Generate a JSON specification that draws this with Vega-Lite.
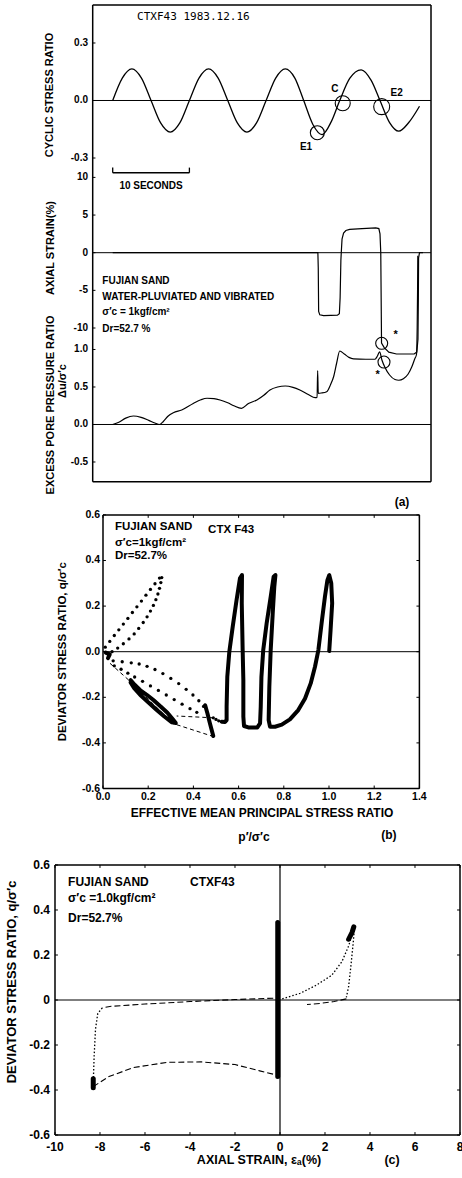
{
"$schema":"https://vega.github.io/schema/vega-lite/v6.json",
"width":462,"height":1178,"autosize":{"type":"none"},"padding":0,"background":"white",
"config":{
 "view":{"stroke":null},
 "axis":{"grid":false},
 "text":{"font":"Liberation Sans","fontWeight":"bold","color":"black","fontSize":10},
 "line":{"color":"black","strokeWidth":1.2},
 "rule":{"color":"black","strokeWidth":1},
 "point":{"color":"black","filled":true,"opacity":1}
},
"datasets":{
 "stress":[{"t":0,"s":0},{"t":1.25,"s":0.117},{"t":2.5,"s":0.165},{"t":3.75,"s":0.117},{"t":5,"s":0},{"t":6.25,"s":-0.117},{"t":7.5,"s":-0.165},{"t":8.75,"s":-0.117},{"t":10,"s":0},{"t":11.25,"s":0.117},{"t":12.5,"s":0.165},{"t":13.75,"s":0.117},{"t":15,"s":0},{"t":16.25,"s":-0.117},{"t":17.5,"s":-0.165},{"t":18.75,"s":-0.117},{"t":20,"s":0},{"t":21.25,"s":0.117},{"t":22.5,"s":0.165},{"t":23.75,"s":0.117},{"t":24.9,"s":0},{"t":26.1,"s":-0.125},{"t":27.3,"s":-0.178},{"t":28.5,"s":-0.11},{"t":29.6,"s":0},{"t":30.9,"s":0.115},{"t":32.4,"s":0.16},{"t":33.7,"s":0.105},{"t":34.85,"s":0},{"t":36.1,"s":-0.115},{"t":37.3,"s":-0.16},{"t":38.6,"s":-0.115},{"t":40.0,"s":-0.03}],
 "strain":[{"t":0,"e":0},{"t":26.75,"e":0},{"t":26.8,"e":-2},{"t":26.85,"e":-7.8},{"t":27.0,"e":-8.25},{"t":27.5,"e":-8.35},{"t":29.3,"e":-8.3},{"t":29.55,"e":-8.1},{"t":29.65,"e":-6},{"t":29.75,"e":-1},{"t":29.8,"e":0},{"t":29.9,"e":1.8},{"t":30.1,"e":2.6},{"t":30.4,"e":2.95},{"t":30.9,"e":3.1},{"t":32.5,"e":3.2},{"t":34.3,"e":3.3},{"t":34.7,"e":3.2},{"t":34.85,"e":2.5},{"t":34.95,"e":0},{"t":35.0,"e":-6},{"t":35.05,"e":-12.0},{"t":35.4,"e":-12.6},{"t":36.0,"e":-13.2},{"t":37.0,"e":-13.45},{"t":39.3,"e":-13.45},{"t":39.65,"e":-13.2},{"t":39.8,"e":-11.5},{"t":39.85,"e":-6},{"t":39.88,"e":-0.7},{"t":40.0,"e":0},{"t":40.45,"e":0}],
 "pore":[{"t":0,"u":0},{"t":0.8,"u":0.03},{"t":1.7,"u":0.085},{"t":2.7,"u":0.113},{"t":3.7,"u":0.095},{"t":4.7,"u":0.055},{"t":5.5,"u":0.02},{"t":6.1,"u":0},{"t":6.6,"u":0.04},{"t":7.2,"u":0.11},{"t":7.9,"u":0.157},{"t":9.0,"u":0.193},{"t":10.5,"u":0.28},{"t":11.5,"u":0.33},{"t":12.3,"u":0.35},{"t":13.2,"u":0.345},{"t":14.0,"u":0.327},{"t":15.0,"u":0.29},{"t":15.8,"u":0.25},{"t":16.8,"u":0.216},{"t":17.7,"u":0.28},{"t":18.8,"u":0.327},{"t":19.7,"u":0.39},{"t":20.5,"u":0.46},{"t":21.5,"u":0.5},{"t":22.5,"u":0.513},{"t":23.5,"u":0.495},{"t":24.4,"u":0.46},{"t":25.5,"u":0.4},{"t":26.4,"u":0.357},{"t":26.65,"u":0.36},{"t":26.72,"u":0.717},{"t":26.8,"u":0.416},{"t":27.2,"u":0.42},{"t":27.9,"u":0.437},{"t":28.4,"u":0.53},{"t":28.8,"u":0.637},{"t":29.2,"u":0.82},{"t":29.6,"u":0.98},{"t":30.2,"u":0.94},{"t":30.8,"u":0.895},{"t":31.4,"u":0.875},{"t":33.0,"u":0.87},{"t":34.2,"u":0.87},{"t":34.5,"u":0.91},{"t":34.8,"u":0.97},{"t":35.1,"u":0.86},{"t":35.5,"u":0.76},{"t":36.1,"u":0.66},{"t":36.8,"u":0.6},{"t":37.3,"u":0.59},{"t":37.9,"u":0.61},{"t":38.5,"u":0.67},{"t":39.0,"u":0.77},{"t":39.4,"u":0.88},{"t":39.6,"u":0.93},{"t":39.7,"u":1.3},{"t":39.75,"u":1.8},{"t":39.78,"u":2.25}],
 "circA":[{"t":26.68,"s":-0.168,"label":"E1"},{"t":29.99,"s":-0.0146,"label":"C"},{"t":35.07,"s":-0.032,"label":"E2"}],
 "textA":[{"t":28.98,"s":0.06,"label":"C"},{"t":37.03,"s":0.0407,"label":"E2"},{"t":25.2,"s":-0.241,"label":"E1"},{"t":5.0,"s":-0.4445,"label":"10 SECONDS"}],
 "legA":[{"t":-1.35,"e":-3.77,"label":"FUJIAN SAND"},{"t":-1.35,"e":-5.87,"label":"WATER-PLUVIATED AND VIBRATED"},{"t":-1.35,"e":-7.87,"label":"σ′c = 1kgf/cm²"},{"t":-1.35,"e":-10.17,"label":"Dr=52.7 %"}],
 "labS":[{"v":0.3,"label":"0.3"},{"v":0,"label":"0.0"},{"v":-0.3,"label":"-0.3"}],
 "labE":[{"v":10,"label":"10"},{"v":5,"label":"5"},{"v":0,"label":"0"},{"v":-5,"label":"-5"},{"v":-10,"label":"-10"}],
 "labP":[{"v":1,"label":"1.0"},{"v":0.5,"label":"0.5"},{"v":0,"label":"0.0"},{"v":-0.5,"label":"-0.5"}],
 "circP":[{"t":35.07,"u":1.083},{"t":35.37,"u":0.833}],
 "starP":[{"t":36.9,"u":1.193},{"t":34.55,"u":0.66}],
 "bMain":[{"p":1.001,"q":0.003},{"p":1.007,"q":0.095},{"p":1.014,"q":0.212},{"p":1.01,"q":0.3},{"p":1.001,"q":0.336},{"p":0.993,"q":0.314},{"p":0.982,"q":0.241},{"p":0.969,"q":0.139},{"p":0.953,"q":0.007},{"p":0.938,"q":-0.066},{"p":0.919,"q":-0.139},{"p":0.894,"q":-0.205},{"p":0.864,"q":-0.256},{"p":0.827,"q":-0.297},{"p":0.791,"q":-0.32},{"p":0.761,"q":-0.329},{"p":0.739,"q":-0.329},{"p":0.733,"q":-0.3},{"p":0.736,"q":-0.154},{"p":0.742,"q":0.007},{"p":0.751,"q":0.168},{"p":0.758,"q":0.285},{"p":0.763,"q":0.336},{"p":0.755,"q":0.329},{"p":0.742,"q":0.241},{"p":0.724,"q":0.124},{"p":0.709,"q":0.007},{"p":0.701,"q":-0.11},{"p":0.698,"q":-0.241},{"p":0.695,"q":-0.314},{"p":0.683,"q":-0.332},{"p":0.643,"q":-0.332},{"p":0.624,"q":-0.326},{"p":0.621,"q":-0.285},{"p":0.621,"q":-0.124},{"p":0.618,"q":0.007},{"p":0.614,"q":0.212},{"p":0.615,"q":0.336},{"p":0.606,"q":0.322},{"p":0.591,"q":0.227},{"p":0.574,"q":0.11},{"p":0.559,"q":0},{"p":0.55,"q":-0.11},{"p":0.547,"q":-0.241},{"p":0.547,"q":-0.3},{"p":0.54,"q":-0.308},{"p":0.525,"q":-0.307}],
 "bLobe":[{"seg":"lobe","p":0.122,"q":-0.125},{"seg":"lobe","p":0.14,"q":-0.145},{"seg":"lobe","p":0.164,"q":-0.168},{"seg":"lobe","p":0.195,"q":-0.19},{"seg":"lobe","p":0.223,"q":-0.212},{"seg":"lobe","p":0.255,"q":-0.24},{"seg":"lobe","p":0.285,"q":-0.268},{"seg":"lobe","p":0.31,"q":-0.298},{"seg":"lobe","p":0.322,"q":-0.313},{"seg":"lobe","p":0.305,"q":-0.31},{"seg":"lobe","p":0.27,"q":-0.283},{"seg":"lobe","p":0.235,"q":-0.253},{"seg":"lobe","p":0.2,"q":-0.222},{"seg":"lobe","p":0.165,"q":-0.19},{"seg":"lobe","p":0.138,"q":-0.16},{"seg":"lobe","p":0.122,"q":-0.135},{"seg":"tip","p":0.452,"q":-0.235},{"seg":"tip","p":0.462,"q":-0.27},{"seg":"tip","p":0.472,"q":-0.31},{"seg":"tip","p":0.48,"q":-0.34},{"seg":"tip","p":0.488,"q":-0.37},{"seg":"blob","p":0.012,"q":-0.004},{"seg":"blob","p":0.03,"q":-0.012},{"seg":"blob","p":0.022,"q":-0.028}],
 "bDots":[{"p":0.01,"q":0.02},{"p":0.03,"q":0.045},{"p":0.05,"q":0.071},{"p":0.07,"q":0.096},{"p":0.09,"q":0.121},{"p":0.11,"q":0.146},{"p":0.13,"q":0.172},{"p":0.15,"q":0.197},{"p":0.17,"q":0.222},{"p":0.19,"q":0.248},{"p":0.21,"q":0.273},{"p":0.23,"q":0.298},{"p":0.25,"q":0.323},
  {"p":0.04,"q":0.0},{"p":0.065,"q":0.016},{"p":0.09,"q":0.035},{"p":0.115,"q":0.056},{"p":0.138,"q":0.078},{"p":0.158,"q":0.102},{"p":0.178,"q":0.128},{"p":0.195,"q":0.153},{"p":0.21,"q":0.178},{"p":0.223,"q":0.203},{"p":0.234,"q":0.228},{"p":0.243,"q":0.253},{"p":0.25,"q":0.278},{"p":0.256,"q":0.303},{"p":0.26,"q":0.325},
  {"p":0.045,"q":-0.04},{"p":0.085,"q":-0.044},{"p":0.125,"q":-0.049},{"p":0.16,"q":-0.054},{"p":0.195,"q":-0.064},{"p":0.23,"q":-0.078},{"p":0.265,"q":-0.096},{"p":0.3,"q":-0.117},{"p":0.335,"q":-0.14},{"p":0.368,"q":-0.165},{"p":0.398,"q":-0.19},{"p":0.424,"q":-0.215},{"p":0.445,"q":-0.24},
  {"p":0.05,"q":-0.062},{"p":0.08,"q":-0.077},{"p":0.11,"q":-0.094},{"p":0.14,"q":-0.111},{"p":0.175,"q":-0.13},{"p":0.21,"q":-0.15},{"p":0.245,"q":-0.17},{"p":0.28,"q":-0.19},{"p":0.315,"q":-0.21},{"p":0.35,"q":-0.23},{"p":0.385,"q":-0.25},{"p":0.415,"q":-0.266},
  {"p":0.488,"q":-0.29},{"p":0.5,"q":-0.297},{"p":0.512,"q":-0.303}],
 "bDash":[{"seg":"d1","p":0.488,"q":-0.29},{"seg":"d1","p":0.326,"q":-0.282},{"seg":"d2","p":0.031,"q":-0.051},{"seg":"d2","p":0.12,"q":-0.13},{"seg":"d2","p":0.31,"q":-0.315},{"seg":"d2","p":0.488,"q":-0.372}],
 "bText":[{"p":0.053,"q":0.547,"label":"FUJIAN SAND"},{"p":0.465,"q":0.534,"label":"CTX F43"},{"p":0.053,"q":0.477,"label":"σ′c=1kgf/cm²"},{"p":0.053,"q":0.42,"label":"Dr=52.7%"}],
 "bText2":[{"p":0.668,"q":-0.811,"label":"p′/σ′c"},{"p":1.265,"q":-0.804,"label":"(b)"},{"p":0.7035,"q":-0.7075,"label":"EFFECTIVE MEAN PRINCIPAL STRESS RATIO"}],
 "labBY":[{"v":0.6,"label":"0.6"},{"v":0.4,"label":"0.4"},{"v":0.2,"label":"0.2"},{"v":0,"label":"0.0"},{"v":-0.2,"label":"-0.2"},{"v":-0.4,"label":"-0.4"},{"v":-0.6,"label":"-0.6"}],
 "labBX":[{"v":0,"label":"0.0"},{"v":0.2,"label":"0.2"},{"v":0.4,"label":"0.4"},{"v":0.6,"label":"0.6"},{"v":0.8,"label":"0.8"},{"v":1.0,"label":"1.0"},{"v":1.2,"label":"1.2"},{"v":1.4,"label":"1.4"}],
 "cDense":[{"seg":"bar","e":-0.1,"q":-0.34},{"seg":"bar","e":-0.1,"q":0.345},{"seg":"peak","e":3.05,"q":0.27},{"seg":"peak","e":3.2,"q":0.3},{"seg":"peak","e":3.28,"q":0.325},{"seg":"foot","e":-8.3,"q":-0.35},{"seg":"foot","e":-8.3,"q":-0.39}],
 "cDot":[{"seg":"up","e":0.1,"q":0.005},{"seg":"up","e":0.9,"q":0.03},{"seg":"up","e":1.6,"q":0.065},{"seg":"up","e":2.3,"q":0.11},{"seg":"up","e":2.75,"q":0.17},{"seg":"up","e":3.05,"q":0.24},{"seg":"up","e":3.2,"q":0.29},{"seg":"up","e":3.3,"q":0.32},{"seg":"down","e":3.3,"q":0.31},{"seg":"down","e":3.25,"q":0.25},{"seg":"down","e":3.15,"q":0.15},{"seg":"down","e":3.05,"q":0.06},{"seg":"down","e":2.95,"q":0.012},{"seg":"left","e":-7.9,"q":-0.035},{"seg":"left","e":-8.1,"q":-0.06},{"seg":"left","e":-8.2,"q":-0.13},{"seg":"left","e":-8.26,"q":-0.25},{"seg":"left","e":-8.3,"q":-0.37}],
 "cDash":[{"seg":"r","e":2.95,"q":0.005},{"seg":"r","e":2.4,"q":-0.007},{"seg":"r","e":1.8,"q":-0.015},{"seg":"r","e":1.2,"q":-0.02},{"seg":"ul","e":-0.3,"q":0.008},{"seg":"ul","e":-2,"q":0.002},{"seg":"ul","e":-4,"q":-0.007},{"seg":"ul","e":-6,"q":-0.018},{"seg":"ul","e":-7.5,"q":-0.028},{"seg":"ul","e":-7.9,"q":-0.035},{"seg":"low","e":-8.3,"q":-0.385},{"seg":"low","e":-7.6,"q":-0.34},{"seg":"low","e":-6.5,"q":-0.3},{"seg":"low","e":-5,"q":-0.277},{"seg":"low","e":-3.5,"q":-0.275},{"seg":"low","e":-2,"q":-0.287},{"seg":"low","e":-0.9,"q":-0.315},{"seg":"low","e":-0.2,"q":-0.332}],
 "cText":[{"e":-9.42,"q":0.526,"label":"FUJIAN SAND"},{"e":-4.0,"q":0.526,"label":"CTXF43"},{"e":-9.42,"q":0.453,"label":"σ′c =1.0kgf/cm²"},{"e":-9.42,"q":0.364,"label":"Dr=52.7%"}],
 "cText2":[{"e":4.98,"q":-0.711,"label":"(c)"},{"e":-0.933,"q":-0.711,"label":"AXIAL STRAIN, εₐ(%)"}],
 "labCY":[{"v":0.6,"label":"0.6"},{"v":0.4,"label":"0.4"},{"v":0.2,"label":"0.2"},{"v":0,"label":"0"},{"v":-0.2,"label":"-0.2"},{"v":-0.4,"label":"-0.4"},{"v":-0.6,"label":"-0.6"}],
 "labCX":[{"v":-10,"label":"-10"},{"v":-8,"label":"-8"},{"v":-6,"label":"-6"},{"v":-4,"label":"-4"},{"v":-2,"label":"-2"},{"v":0,"label":"0"},{"v":2,"label":"2"},{"v":4,"label":"4"},{"v":6,"label":"6"},{"v":8,"label":"8"}]
},
"layer":[
 {"layer":[
  {"data":{"name":"stress"},"mark":{"type":"line","interpolate":"monotone","strokeWidth":1.3},"encoding":{"x":{"field":"t","type":"quantitative","scale":{"domain":[-14.694,45.541],"nice":false,"zero":false},"axis":null},"y":{"field":"s","type":"quantitative","scale":{"domain":[-5.6208,0.52426],"nice":false,"zero":false},"axis":null},"order":{"value":null}}},
  {"data":{"values":[{}]},"mark":{"type":"rule","strokeWidth":1},"encoding":{"x":{"datum":-2.608,"type":"quantitative","scale":{"domain":[-14.694,45.541],"nice":false,"zero":false},"axis":null},"x2":{"datum":41.5},"y":{"datum":0,"type":"quantitative","scale":{"domain":[-5.6208,0.52426],"nice":false,"zero":false},"axis":null}}},
  {"data":{"values":[{}]},"mark":{"type":"rule","strokeWidth":1.5},"encoding":{"x":{"datum":-2.608,"type":"quantitative","scale":{"domain":[-14.694,45.541],"nice":false,"zero":false},"axis":null},"x2":{"datum":41.5},"y":{"datum":0.498,"type":"quantitative","scale":{"domain":[-5.6208,0.52426],"nice":false,"zero":false},"axis":null}}},
  {"data":{"values":[{}]},"mark":{"type":"rule","strokeWidth":1.5},"encoding":{"x":{"datum":-2.608,"type":"quantitative","scale":{"domain":[-14.694,45.541],"nice":false,"zero":false},"axis":null},"x2":{"datum":41.5},"y":{"datum":-1.9885,"type":"quantitative","scale":{"domain":[-5.6208,0.52426],"nice":false,"zero":false},"axis":null}}},
  {"data":{"values":[{}]},"mark":{"type":"rule","strokeWidth":1.5},"encoding":{"x":{"datum":-2.608,"type":"quantitative","scale":{"domain":[-14.694,45.541],"nice":false,"zero":false},"axis":null},"y":{"datum":0.498,"type":"quantitative","scale":{"domain":[-5.6208,0.52426],"nice":false,"zero":false},"axis":null},"y2":{"datum":-1.9885}}},
  {"data":{"values":[{}]},"mark":{"type":"rule","strokeWidth":1.5},"encoding":{"x":{"datum":41.5,"type":"quantitative","scale":{"domain":[-14.694,45.541],"nice":false,"zero":false},"axis":null},"y":{"datum":0.498,"type":"quantitative","scale":{"domain":[-5.6208,0.52426],"nice":false,"zero":false},"axis":null},"y2":{"datum":-1.9885}}},
  {"data":{"values":[{}]},"mark":{"type":"rule","strokeWidth":1.3},"encoding":{"x":{"datum":0,"type":"quantitative","scale":{"domain":[-14.694,45.541],"nice":false,"zero":false},"axis":null},"x2":{"datum":10},"y":{"datum":-0.377,"type":"quantitative","scale":{"domain":[-5.6208,0.52426],"nice":false,"zero":false},"axis":null}}},
  {"data":{"values":[{}]},"mark":{"type":"rule","strokeWidth":1.3},"encoding":{"x":{"datum":0,"type":"quantitative","scale":{"domain":[-14.694,45.541],"nice":false,"zero":false},"axis":null},"y":{"datum":-0.377,"type":"quantitative","scale":{"domain":[-5.6208,0.52426],"nice":false,"zero":false},"axis":null},"y2":{"datum":-0.35}}},
  {"data":{"values":[{}]},"mark":{"type":"rule","strokeWidth":1.3},"encoding":{"x":{"datum":10,"type":"quantitative","scale":{"domain":[-14.694,45.541],"nice":false,"zero":false},"axis":null},"y":{"datum":-0.377,"type":"quantitative","scale":{"domain":[-5.6208,0.52426],"nice":false,"zero":false},"axis":null},"y2":{"datum":-0.35}}},
  {"data":{"name":"circA"},"mark":{"type":"point","shape":"circle","filled":false,"strokeWidth":1.1,"color":"black"},"encoding":{"x":{"field":"t","type":"quantitative","scale":{"domain":[-14.694,45.541],"nice":false,"zero":false},"axis":null},"y":{"field":"s","type":"quantitative","scale":{"domain":[-5.6208,0.52426],"nice":false,"zero":false},"axis":null},"size":{"field":"label","type":"nominal","scale":{"domain":["E1","C","E2"],"range":[196,256,324]},"legend":null}}},
  {"data":{"name":"textA"},"mark":{"type":"text","align":"center","baseline":"middle","fontSize":10},"encoding":{"x":{"field":"t","type":"quantitative","scale":{"domain":[-14.694,45.541],"nice":false,"zero":false},"axis":null},"y":{"field":"s","type":"quantitative","scale":{"domain":[-5.6208,0.52426],"nice":false,"zero":false},"axis":null},"text":{"field":"label"}}},
  {"data":{"values":[{"t":3.18,"s":0.434,"label":"CTXF43 1983.12.16"}]},"mark":{"type":"text","align":"left","baseline":"middle","font":"DejaVu Sans Mono","fontWeight":"normal","fontSize":11},"encoding":{"x":{"field":"t","type":"quantitative","scale":{"domain":[-14.694,45.541],"nice":false,"zero":false},"axis":null},"y":{"field":"s","type":"quantitative","scale":{"domain":[-5.6208,0.52426],"nice":false,"zero":false},"axis":null},"text":{"field":"label"}}},
  {"data":{"values":[{"t":37.72,"s":-2.0945,"label":"(a)"}]},"mark":{"type":"text","align":"center","baseline":"middle","fontSize":12},"encoding":{"x":{"field":"t","type":"quantitative","scale":{"domain":[-14.694,45.541],"nice":false,"zero":false},"axis":null},"y":{"field":"s","type":"quantitative","scale":{"domain":[-5.6208,0.52426],"nice":false,"zero":false},"axis":null},"text":{"field":"label"}}},
  {"data":{"name":"labS"},"mark":{"type":"text","align":"right","baseline":"middle","fontSize":10},"encoding":{"x":{"datum":-3.22,"type":"quantitative","scale":{"domain":[-14.694,45.541],"nice":false,"zero":false},"axis":null},"y":{"field":"v","type":"quantitative","scale":{"domain":[-5.6208,0.52426],"nice":false,"zero":false},"axis":null},"text":{"field":"label"}}},
  {"data":{"name":"labS"},"mark":{"type":"rule","strokeWidth":1},"encoding":{"x":{"datum":-2.608,"type":"quantitative","scale":{"domain":[-14.694,45.541],"nice":false,"zero":false},"axis":null},"x2":{"datum":-2.25},"y":{"field":"v","type":"quantitative","scale":{"domain":[-5.6208,0.52426],"nice":false,"zero":false},"axis":null}}},
  {"data":{"values":[{"t":-8.11,"s":0.0287,"label":"CYCLIC STRESS RATIO"}]},"mark":{"type":"text","align":"center","baseline":"middle","fontSize":11,"angle":270},"encoding":{"x":{"field":"t","type":"quantitative","scale":{"domain":[-14.694,45.541],"nice":false,"zero":false},"axis":null},"y":{"field":"s","type":"quantitative","scale":{"domain":[-5.6208,0.52426],"nice":false,"zero":false},"axis":null},"text":{"field":"label"}}}
 ]},
 {"layer":[
  {"data":{"name":"strain"},"mark":{"type":"line","strokeWidth":1.2},"encoding":{"x":{"field":"t","type":"quantitative","scale":{"domain":[-14.694,45.541],"nice":false,"zero":false},"axis":null},"y":{"field":"e","type":"quantitative","scale":{"domain":[-122.88,33.559],"nice":false,"zero":false},"axis":null},"order":{"value":null}}},
  {"data":{"values":[{}]},"mark":{"type":"rule","strokeWidth":1},"encoding":{"x":{"datum":-2.608,"type":"quantitative","scale":{"domain":[-14.694,45.541],"nice":false,"zero":false},"axis":null},"x2":{"datum":41.5},"y":{"datum":0,"type":"quantitative","scale":{"domain":[-122.88,33.559],"nice":false,"zero":false},"axis":null}}},
  {"data":{"name":"legA"},"mark":{"type":"text","align":"left","baseline":"middle","fontSize":10},"encoding":{"x":{"field":"t","type":"quantitative","scale":{"domain":[-14.694,45.541],"nice":false,"zero":false},"axis":null},"y":{"field":"e","type":"quantitative","scale":{"domain":[-122.88,33.559],"nice":false,"zero":false},"axis":null},"text":{"field":"label"}}},
  {"data":{"name":"labE"},"mark":{"type":"text","align":"right","baseline":"middle","fontSize":10},"encoding":{"x":{"datum":-3.22,"type":"quantitative","scale":{"domain":[-14.694,45.541],"nice":false,"zero":false},"axis":null},"y":{"field":"v","type":"quantitative","scale":{"domain":[-122.88,33.559],"nice":false,"zero":false},"axis":null},"text":{"field":"label"}}},
  {"data":{"name":"labE"},"mark":{"type":"rule","strokeWidth":1},"encoding":{"x":{"datum":-2.608,"type":"quantitative","scale":{"domain":[-14.694,45.541],"nice":false,"zero":false},"axis":null},"x2":{"datum":-2.25},"y":{"field":"v","type":"quantitative","scale":{"domain":[-122.88,33.559],"nice":false,"zero":false},"axis":null}}},
  {"data":{"values":[{"t":-8.04,"e":0.62,"label":"AXIAL STRAIN(%)"}]},"mark":{"type":"text","align":"center","baseline":"middle","fontSize":11,"angle":270},"encoding":{"x":{"field":"t","type":"quantitative","scale":{"domain":[-14.694,45.541],"nice":false,"zero":false},"axis":null},"y":{"field":"e","type":"quantitative","scale":{"domain":[-122.88,33.559],"nice":false,"zero":false},"axis":null},"text":{"field":"label"}}}
 ]},
 {"layer":[
  {"data":{"name":"pore"},"mark":{"type":"line","interpolate":"monotone","strokeWidth":1.2},"encoding":{"x":{"field":"t","type":"quantitative","scale":{"domain":[-14.694,45.541],"nice":false,"zero":false},"axis":null},"y":{"field":"u","type":"quantitative","scale":{"domain":[-10.0467,5.66],"nice":false,"zero":false},"axis":null},"order":{"value":null}}},
  {"data":{"values":[{}]},"mark":{"type":"rule","strokeWidth":1},"encoding":{"x":{"datum":-2.608,"type":"quantitative","scale":{"domain":[-14.694,45.541],"nice":false,"zero":false},"axis":null},"x2":{"datum":41.5},"y":{"datum":0,"type":"quantitative","scale":{"domain":[-10.0467,5.66],"nice":false,"zero":false},"axis":null}}},
  {"data":{"name":"circP"},"mark":{"type":"point","shape":"circle","filled":false,"strokeWidth":1.1,"color":"black","size":144},"encoding":{"x":{"field":"t","type":"quantitative","scale":{"domain":[-14.694,45.541],"nice":false,"zero":false},"axis":null},"y":{"field":"u","type":"quantitative","scale":{"domain":[-10.0467,5.66],"nice":false,"zero":false},"axis":null}}},
  {"data":{"name":"starP"},"mark":{"type":"text","align":"center","baseline":"middle","fontSize":11,"text":"*"},"encoding":{"x":{"field":"t","type":"quantitative","scale":{"domain":[-14.694,45.541],"nice":false,"zero":false},"axis":null},"y":{"field":"u","type":"quantitative","scale":{"domain":[-10.0467,5.66],"nice":false,"zero":false},"axis":null}}},
  {"data":{"values":[{"t":-6.48,"u":0.58,"label":"Δu/σ′c"},{"t":-8.04,"u":0.26,"label":"EXCESS PORE PRESSURE RATIO"}]},"mark":{"type":"text","align":"center","baseline":"middle","fontSize":11,"angle":270},"encoding":{"x":{"field":"t","type":"quantitative","scale":{"domain":[-14.694,45.541],"nice":false,"zero":false},"axis":null},"y":{"field":"u","type":"quantitative","scale":{"domain":[-10.0467,5.66],"nice":false,"zero":false},"axis":null},"text":{"field":"label"}}},
  {"data":{"name":"labP"},"mark":{"type":"text","align":"right","baseline":"middle","fontSize":10},"encoding":{"x":{"datum":-3.22,"type":"quantitative","scale":{"domain":[-14.694,45.541],"nice":false,"zero":false},"axis":null},"y":{"field":"v","type":"quantitative","scale":{"domain":[-10.0467,5.66],"nice":false,"zero":false},"axis":null},"text":{"field":"label"}}},
  {"data":{"name":"labP"},"mark":{"type":"rule","strokeWidth":1},"encoding":{"x":{"datum":-2.608,"type":"quantitative","scale":{"domain":[-14.694,45.541],"nice":false,"zero":false},"axis":null},"x2":{"datum":-2.25},"y":{"field":"v","type":"quantitative","scale":{"domain":[-10.0467,5.66],"nice":false,"zero":false},"axis":null}}}
 ]},
 {"layer":[
  {"data":{"name":"bMain"},"mark":{"type":"line","strokeWidth":4,"strokeCap":"round","strokeJoin":"round"},"encoding":{"x":{"field":"p","type":"quantitative","scale":{"domain":[-0.45575,1.5885],"nice":false,"zero":false},"axis":null},"y":{"field":"q","type":"quantitative","scale":{"domain":[-2.30833,2.85833],"nice":false,"zero":false},"axis":null},"order":{"value":null}}},
  {"data":{"name":"bLobe"},"mark":{"type":"line","strokeWidth":4,"strokeCap":"round","strokeJoin":"round"},"encoding":{"x":{"field":"p","type":"quantitative","scale":{"domain":[-0.45575,1.5885],"nice":false,"zero":false},"axis":null},"y":{"field":"q","type":"quantitative","scale":{"domain":[-2.30833,2.85833],"nice":false,"zero":false},"axis":null},"detail":{"field":"seg"},"order":{"value":null}}},
  {"data":{"name":"bDots"},"mark":{"type":"point","shape":"circle","filled":true,"size":11},"encoding":{"x":{"field":"p","type":"quantitative","scale":{"domain":[-0.45575,1.5885],"nice":false,"zero":false},"axis":null},"y":{"field":"q","type":"quantitative","scale":{"domain":[-2.30833,2.85833],"nice":false,"zero":false},"axis":null}}},
  {"data":{"name":"bDash"},"mark":{"type":"line","strokeWidth":1,"strokeDash":[4,3]},"encoding":{"x":{"field":"p","type":"quantitative","scale":{"domain":[-0.45575,1.5885],"nice":false,"zero":false},"axis":null},"y":{"field":"q","type":"quantitative","scale":{"domain":[-2.30833,2.85833],"nice":false,"zero":false},"axis":null},"detail":{"field":"seg"},"order":{"value":null}}},
  {"data":{"values":[{}]},"mark":{"type":"rule","strokeWidth":1},"encoding":{"x":{"datum":0,"type":"quantitative","scale":{"domain":[-0.45575,1.5885],"nice":false,"zero":false},"axis":null},"x2":{"datum":1.4},"y":{"datum":0,"type":"quantitative","scale":{"domain":[-2.30833,2.85833],"nice":false,"zero":false},"axis":null}}},
  {"data":{"values":[{}]},"mark":{"type":"rule","strokeWidth":1.5},"encoding":{"x":{"datum":0,"type":"quantitative","scale":{"domain":[-0.45575,1.5885],"nice":false,"zero":false},"axis":null},"x2":{"datum":1.4},"y":{"datum":0.6,"type":"quantitative","scale":{"domain":[-2.30833,2.85833],"nice":false,"zero":false},"axis":null}}},
  {"data":{"values":[{}]},"mark":{"type":"rule","strokeWidth":1.5},"encoding":{"x":{"datum":0,"type":"quantitative","scale":{"domain":[-0.45575,1.5885],"nice":false,"zero":false},"axis":null},"x2":{"datum":1.4},"y":{"datum":-0.6,"type":"quantitative","scale":{"domain":[-2.30833,2.85833],"nice":false,"zero":false},"axis":null}}},
  {"data":{"values":[{}]},"mark":{"type":"rule","strokeWidth":1.5},"encoding":{"x":{"datum":0,"type":"quantitative","scale":{"domain":[-0.45575,1.5885],"nice":false,"zero":false},"axis":null},"y":{"datum":0.6,"type":"quantitative","scale":{"domain":[-2.30833,2.85833],"nice":false,"zero":false},"axis":null},"y2":{"datum":-0.6}}},
  {"data":{"values":[{}]},"mark":{"type":"rule","strokeWidth":1.5},"encoding":{"x":{"datum":1.4,"type":"quantitative","scale":{"domain":[-0.45575,1.5885],"nice":false,"zero":false},"axis":null},"y":{"datum":0.6,"type":"quantitative","scale":{"domain":[-2.30833,2.85833],"nice":false,"zero":false},"axis":null},"y2":{"datum":-0.6}}},
  {"data":{"name":"labBY"},"mark":{"type":"rule","strokeWidth":1},"encoding":{"x":{"datum":0,"type":"quantitative","scale":{"domain":[-0.45575,1.5885],"nice":false,"zero":false},"axis":null},"x2":{"datum":0.013},"y":{"field":"v","type":"quantitative","scale":{"domain":[-2.30833,2.85833],"nice":false,"zero":false},"axis":null}}},
  {"data":{"name":"labBY"},"mark":{"type":"rule","strokeWidth":1},"encoding":{"x":{"datum":1.4,"type":"quantitative","scale":{"domain":[-0.45575,1.5885],"nice":false,"zero":false},"axis":null},"x2":{"datum":1.387},"y":{"field":"v","type":"quantitative","scale":{"domain":[-2.30833,2.85833],"nice":false,"zero":false},"axis":null}}},
  {"data":{"name":"labBX"},"mark":{"type":"rule","strokeWidth":1},"encoding":{"x":{"field":"v","type":"quantitative","scale":{"domain":[-0.45575,1.5885],"nice":false,"zero":false},"axis":null},"y":{"datum":-0.6,"type":"quantitative","scale":{"domain":[-2.30833,2.85833],"nice":false,"zero":false},"axis":null},"y2":{"datum":-0.587}}},
  {"data":{"name":"labBX"},"mark":{"type":"rule","strokeWidth":1},"encoding":{"x":{"field":"v","type":"quantitative","scale":{"domain":[-0.45575,1.5885],"nice":false,"zero":false},"axis":null},"y":{"datum":0.6,"type":"quantitative","scale":{"domain":[-2.30833,2.85833],"nice":false,"zero":false},"axis":null},"y2":{"datum":0.587}}},
  {"data":{"name":"bText"},"mark":{"type":"text","align":"left","baseline":"middle","fontSize":11.5},"encoding":{"x":{"field":"p","type":"quantitative","scale":{"domain":[-0.45575,1.5885],"nice":false,"zero":false},"axis":null},"y":{"field":"q","type":"quantitative","scale":{"domain":[-2.30833,2.85833],"nice":false,"zero":false},"axis":null},"text":{"field":"label"}}},
  {"data":{"name":"bText2"},"mark":{"type":"text","align":"center","baseline":"middle","fontSize":12},"encoding":{"x":{"field":"p","type":"quantitative","scale":{"domain":[-0.45575,1.5885],"nice":false,"zero":false},"axis":null},"y":{"field":"q","type":"quantitative","scale":{"domain":[-2.30833,2.85833],"nice":false,"zero":false},"axis":null},"text":{"field":"label"}}},
  {"data":{"values":[{"p":-0.177,"q":0.0,"label":"DEVIATOR STRESS RATIO, q/σ′c"}]},"mark":{"type":"text","align":"center","baseline":"middle","fontSize":11.5,"angle":270},"encoding":{"x":{"field":"p","type":"quantitative","scale":{"domain":[-0.45575,1.5885],"nice":false,"zero":false},"axis":null},"y":{"field":"q","type":"quantitative","scale":{"domain":[-2.30833,2.85833],"nice":false,"zero":false},"axis":null},"text":{"field":"label"}}},
  {"data":{"name":"labBY"},"mark":{"type":"text","align":"right","baseline":"middle","fontSize":10.5},"encoding":{"x":{"datum":-0.0133,"type":"quantitative","scale":{"domain":[-0.45575,1.5885],"nice":false,"zero":false},"axis":null},"y":{"field":"v","type":"quantitative","scale":{"domain":[-2.30833,2.85833],"nice":false,"zero":false},"axis":null},"text":{"field":"label"}}},
  {"data":{"name":"labBX"},"mark":{"type":"text","align":"center","baseline":"middle","fontSize":10.5},"encoding":{"x":{"field":"v","type":"quantitative","scale":{"domain":[-0.45575,1.5885],"nice":false,"zero":false},"axis":null},"y":{"datum":-0.637,"type":"quantitative","scale":{"domain":[-2.30833,2.85833],"nice":false,"zero":false},"axis":null},"text":{"field":"label"}}}
 ]},
 {"layer":[
  {"data":{"name":"cDense"},"mark":{"type":"line","strokeWidth":5,"strokeCap":"round"},"encoding":{"x":{"field":"e","type":"quantitative","scale":{"domain":[-12.4444,8.0889],"nice":false,"zero":false},"axis":null},"y":{"field":"q","type":"quantitative","scale":{"domain":[-0.79111,4.44444],"nice":false,"zero":false},"axis":null},"detail":{"field":"seg"},"order":{"value":null}}},
  {"data":{"name":"cDot"},"mark":{"type":"line","strokeWidth":1.3,"strokeDash":[1.5,2]},"encoding":{"x":{"field":"e","type":"quantitative","scale":{"domain":[-12.4444,8.0889],"nice":false,"zero":false},"axis":null},"y":{"field":"q","type":"quantitative","scale":{"domain":[-0.79111,4.44444],"nice":false,"zero":false},"axis":null},"detail":{"field":"seg"},"order":{"value":null}}},
  {"data":{"name":"cDash"},"mark":{"type":"line","strokeWidth":1.1,"strokeDash":[6,3]},"encoding":{"x":{"field":"e","type":"quantitative","scale":{"domain":[-12.4444,8.0889],"nice":false,"zero":false},"axis":null},"y":{"field":"q","type":"quantitative","scale":{"domain":[-0.79111,4.44444],"nice":false,"zero":false},"axis":null},"detail":{"field":"seg"},"order":{"value":null}}},
  {"data":{"values":[{}]},"mark":{"type":"rule","strokeWidth":1.2},"encoding":{"x":{"datum":-10,"type":"quantitative","scale":{"domain":[-12.4444,8.0889],"nice":false,"zero":false},"axis":null},"x2":{"datum":8},"y":{"datum":0,"type":"quantitative","scale":{"domain":[-0.79111,4.44444],"nice":false,"zero":false},"axis":null}}},
  {"data":{"values":[{}]},"mark":{"type":"rule","strokeWidth":1.2},"encoding":{"x":{"datum":0,"type":"quantitative","scale":{"domain":[-12.4444,8.0889],"nice":false,"zero":false},"axis":null},"y":{"datum":0.6,"type":"quantitative","scale":{"domain":[-0.79111,4.44444],"nice":false,"zero":false},"axis":null},"y2":{"datum":-0.6}}},
  {"data":{"values":[{}]},"mark":{"type":"rule","strokeWidth":1.5},"encoding":{"x":{"datum":-10,"type":"quantitative","scale":{"domain":[-12.4444,8.0889],"nice":false,"zero":false},"axis":null},"x2":{"datum":8},"y":{"datum":0.6,"type":"quantitative","scale":{"domain":[-0.79111,4.44444],"nice":false,"zero":false},"axis":null}}},
  {"data":{"values":[{}]},"mark":{"type":"rule","strokeWidth":1.5},"encoding":{"x":{"datum":-10,"type":"quantitative","scale":{"domain":[-12.4444,8.0889],"nice":false,"zero":false},"axis":null},"x2":{"datum":8},"y":{"datum":-0.6,"type":"quantitative","scale":{"domain":[-0.79111,4.44444],"nice":false,"zero":false},"axis":null}}},
  {"data":{"values":[{}]},"mark":{"type":"rule","strokeWidth":1.5},"encoding":{"x":{"datum":-10,"type":"quantitative","scale":{"domain":[-12.4444,8.0889],"nice":false,"zero":false},"axis":null},"y":{"datum":0.6,"type":"quantitative","scale":{"domain":[-0.79111,4.44444],"nice":false,"zero":false},"axis":null},"y2":{"datum":-0.6}}},
  {"data":{"values":[{}]},"mark":{"type":"rule","strokeWidth":1.5},"encoding":{"x":{"datum":8,"type":"quantitative","scale":{"domain":[-12.4444,8.0889],"nice":false,"zero":false},"axis":null},"y":{"datum":0.6,"type":"quantitative","scale":{"domain":[-0.79111,4.44444],"nice":false,"zero":false},"axis":null},"y2":{"datum":-0.6}}},
  {"data":{"name":"labCY"},"mark":{"type":"rule","strokeWidth":1},"encoding":{"x":{"datum":-10,"type":"quantitative","scale":{"domain":[-12.4444,8.0889],"nice":false,"zero":false},"axis":null},"x2":{"datum":-9.87},"y":{"field":"v","type":"quantitative","scale":{"domain":[-0.79111,4.44444],"nice":false,"zero":false},"axis":null}}},
  {"data":{"name":"labCY"},"mark":{"type":"rule","strokeWidth":1},"encoding":{"x":{"datum":8,"type":"quantitative","scale":{"domain":[-12.4444,8.0889],"nice":false,"zero":false},"axis":null},"x2":{"datum":7.87},"y":{"field":"v","type":"quantitative","scale":{"domain":[-0.79111,4.44444],"nice":false,"zero":false},"axis":null}}},
  {"data":{"name":"labCX"},"mark":{"type":"rule","strokeWidth":1},"encoding":{"x":{"field":"v","type":"quantitative","scale":{"domain":[-12.4444,8.0889],"nice":false,"zero":false},"axis":null},"y":{"datum":-0.6,"type":"quantitative","scale":{"domain":[-0.79111,4.44444],"nice":false,"zero":false},"axis":null},"y2":{"datum":-0.587}}},
  {"data":{"name":"labCX"},"mark":{"type":"rule","strokeWidth":1},"encoding":{"x":{"field":"v","type":"quantitative","scale":{"domain":[-12.4444,8.0889],"nice":false,"zero":false},"axis":null},"y":{"datum":0.6,"type":"quantitative","scale":{"domain":[-0.79111,4.44444],"nice":false,"zero":false},"axis":null},"y2":{"datum":0.587}}},
  {"data":{"name":"cText"},"mark":{"type":"text","align":"left","baseline":"middle","fontSize":12},"encoding":{"x":{"field":"e","type":"quantitative","scale":{"domain":[-12.4444,8.0889],"nice":false,"zero":false},"axis":null},"y":{"field":"q","type":"quantitative","scale":{"domain":[-0.79111,4.44444],"nice":false,"zero":false},"axis":null},"text":{"field":"label"}}},
  {"data":{"name":"cText2"},"mark":{"type":"text","align":"center","baseline":"middle","fontSize":12.5},"encoding":{"x":{"field":"e","type":"quantitative","scale":{"domain":[-12.4444,8.0889],"nice":false,"zero":false},"axis":null},"y":{"field":"q","type":"quantitative","scale":{"domain":[-0.79111,4.44444],"nice":false,"zero":false},"axis":null},"text":{"field":"label"}}},
  {"data":{"values":[{"e":-11.91,"q":0.08,"label":"DEVIATOR STRESS RATIO, q/σ′c"}]},"mark":{"type":"text","align":"center","baseline":"middle","fontSize":13,"angle":270},"encoding":{"x":{"field":"e","type":"quantitative","scale":{"domain":[-12.4444,8.0889],"nice":false,"zero":false},"axis":null},"y":{"field":"q","type":"quantitative","scale":{"domain":[-0.79111,4.44444],"nice":false,"zero":false},"axis":null},"text":{"field":"label"}}},
  {"data":{"name":"labCY"},"mark":{"type":"text","align":"right","baseline":"middle","fontSize":12},"encoding":{"x":{"datum":-10.22,"type":"quantitative","scale":{"domain":[-12.4444,8.0889],"nice":false,"zero":false},"axis":null},"y":{"field":"v","type":"quantitative","scale":{"domain":[-0.79111,4.44444],"nice":false,"zero":false},"axis":null},"text":{"field":"label"}}},
  {"data":{"name":"labCX"},"mark":{"type":"text","align":"center","baseline":"middle","fontSize":12},"encoding":{"x":{"field":"v","type":"quantitative","scale":{"domain":[-12.4444,8.0889],"nice":false,"zero":false},"axis":null},"y":{"datum":-0.652,"type":"quantitative","scale":{"domain":[-0.79111,4.44444],"nice":false,"zero":false},"axis":null},"text":{"field":"label"}}}
 ]}
],
"resolve":{"scale":{"x":"independent","y":"independent"},"axis":{"x":"independent","y":"independent"}}
}
